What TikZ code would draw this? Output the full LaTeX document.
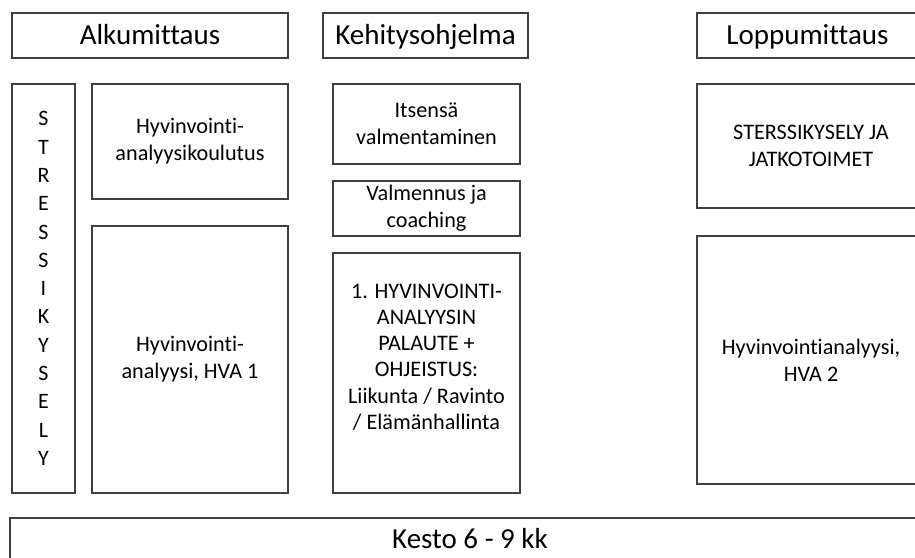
\documentclass[tikz,border=0pt]{standalone}
\usepackage{fontspec}
\setmainfont{Carlito}[Ligatures=NoCommon]
\begin{document}
\begin{tikzpicture}[x=1pt,y=-1pt,
  box/.style={draw=black!75, line width=1.3pt, rectangle, inner sep=0pt,
    align=center, text=black, font=\fontsize{22.2}{27}\selectfont},
  head/.style={box, font=\fontsize{29}{34}\selectfont, text height=21pt, text depth=3pt},
  letters/.style={box, font=\fontsize{22}{28.3}\selectfont}]
\useasboundingbox (0,0) rectangle (915,557);
\clip (0,0) rectangle (915,557);
\fill[white] (0,0) rectangle (915,557);

% phase headings
\node[head, minimum width=276, minimum height=45] (alku) at (150,35.5) {Alkumittaus};
\node[head, minimum width=205, minimum height=45] (kehitys) at (425.5,35.5) {Kehitysohjelma};
\node[head, minimum width=221, minimum height=45] (loppu) at (807.5,35.5) {Loppumittaus};

% initial measurement
\node[letters, minimum width=63, minimum height=409] (stressi) at (43.5,288.5)
  {S\\T\\R\\E\\S\\S\\I\\K\\Y\\S\\E\\L\\Y};
\node[box, minimum width=196, minimum height=115] (koulutus) at (190,141.5)
  {Hyvinvointi-\\analyysikoulutus};
\node[box, minimum width=196, minimum height=267] (hva1) at (190,359.5)
  {Hyvinvointi-\\analyysi, HVA 1};

% development programme
\node[box, minimum width=187, minimum height=80] (itse) at (426.5,124)
  {Itsensä\\valmentaminen};
\node[box, minimum width=187, minimum height=55] (valm) at (426.5,208.5)
  {Valmennus ja\\coaching};
\node[box, minimum width=187, minimum height=240] (palaute) at (426.5,373) {};
\node[align=center, font=\fontsize{22.2}{26.2}\selectfont, inner sep=0pt] (palauteteksti) at (426.5,357)
  {1. HYVINVOINTI-\\ANALYYSIN\\PALAUTE +\\OHJEISTUS:\\Liikunta / Ravinto\\/ Elämänhallinta};

% final measurement
\node[box, minimum width=228, minimum height=124] (jatko) at (811,146)
  {STERSSIKYSELY JA\\JATKOTOIMET};
\node[box, minimum width=228, minimum height=248] (hva2) at (811,360)
  {Hyvinvointianalyysi,\\HVA 2};

% duration bar
\node[head, text depth=15pt, minimum width=920, minimum height=54] (kesto) at (470,545) {Kesto 6 - 9 kk};
\end{tikzpicture}
\end{document}
